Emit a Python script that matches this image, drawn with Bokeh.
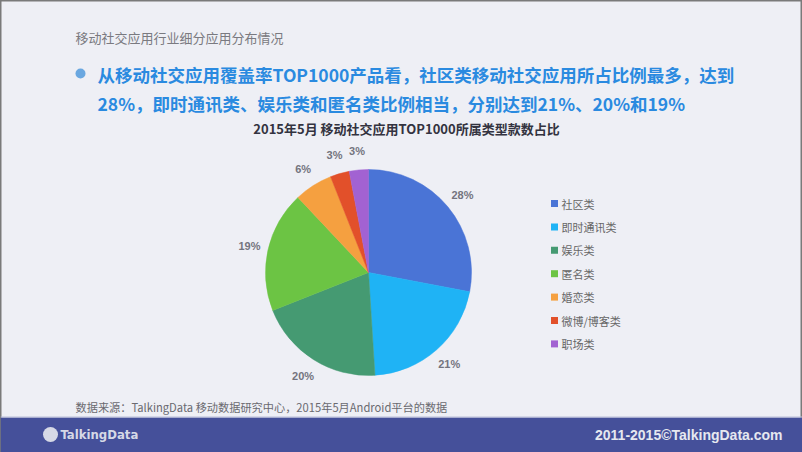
import math
from bokeh.plotting import figure
from bokeh.models import Range1d, ColumnDataSource
from bokeh.core.properties import value
from bokeh.embed import file_html
from bokeh.resources import INLINE

# ---- data ----
categories = ["社区类", "即时通讯类", "娱乐类", "匿名类", "婚恋类", "微博/博客类", "职场类"]
shares = [28, 21, 20, 19, 6, 3, 3]
colors = ["#4a74d6", "#1fb3f5", "#459a72", "#6cc444", "#f5a040", "#e2502a", "#a262d2"]
label_texts = [f"{s}%" for s in shares]

page_title = "移动社交应用行业细分应用分布情况"
headline_1 = "从移动社交应用覆盖率TOP1000产品看，社区类移动社交应用所占比例最多，达到"
headline_2 = "28%，即时通讯类、娱乐类和匿名类比例相当，分别达到21%、20%和19%"
chart_title = "2015年5月 移动社交应用TOP1000所属类型款数占比"
source_text = "数据来源：TalkingData 移动数据研究中心，2015年5月Android平台的数据"
footer_right = "2011-2015©TalkingData.com"
logo_text = "TalkingData"

W, H = 802, 452
CJK = "Noto Sans CJK SC"

p = figure(width=W, height=H, output_backend="svg", toolbar_location=None,
           x_range=Range1d(0, W), y_range=Range1d(0, H), min_border=0)
p.axis.visible = False
p.grid.visible = False
p.background_fill_color = "#eeeff5"
p.border_fill_color = "#eeeff5"
p.outline_line_color = "#7a7a7a"
p.outline_line_width = 2

def Y(py):
    return H - py

# ---- pie ----
cx, cy, r = 368, Y(272), 103
total = sum(shares)
starts, ends, mids = [], [], []
cum = 0
for s in shares:
    a0 = math.pi / 2 - 2 * math.pi * cum / total
    cum += s
    a1 = math.pi / 2 - 2 * math.pi * cum / total
    starts.append(a1)
    ends.append(a0)
    mids.append((a0 + a1) / 2)

src = ColumnDataSource(dict(start=starts, end=ends, color=colors))
p.wedge(x=cx, y=cy, radius=r, start_angle="start", end_angle="end",
        direction="anticlock", fill_color="color", line_color="color",
        line_width=0.5, source=src)

lr = 122
lab = ColumnDataSource(dict(
    x=[cx + lr * math.cos(m) for m in mids],
    y=[cy + lr * math.sin(m) for m in mids],
    t=label_texts))
p.text(x="x", y="y", text="t", source=lab, text_align="center",
       text_baseline="middle", text_font=value("Liberation Sans"),
       text_font_style="bold", text_font_size="11px", text_color="#74747e")

# ---- legend ----
leg_y = [Y(203 + i * 23.4) for i in range(len(categories))]
p.rect(x=[554] * len(categories), y=leg_y, width=7, height=7,
       fill_color=colors, line_color=None)
p.text(x=[561] * len(categories), y=leg_y, text=categories,
       text_baseline="middle", text_font=value(CJK),
       text_font_size="11px", text_color="#666666")

# ---- header texts ----
p.text(x=[75], y=[Y(37)], text=[page_title], text_baseline="middle",
       text_font=value(CJK), text_font_size="13px", text_color="#7a7a80")
p.scatter(x=[80], y=[Y(73)], size=10, fill_color="#6aa7e0", line_color=None)
p.text(x=[97, 97], y=[Y(74), Y(103)], text=[headline_1, headline_2],
       text_baseline="middle", text_font=value(CJK), text_font_style="bold",
       text_font_size="17.5px", text_color="#2a8ae0")
p.text(x=[406], y=[Y(128)], text=[chart_title], text_align="center",
       text_baseline="middle", text_font=value(CJK), text_font_style="bold",
       text_font_size="13px", text_color="#333340")

# ---- source ----
p.text(x=[75], y=[Y(406)], text=[source_text], text_baseline="middle",
       text_font=value(CJK), text_font_size="11.2px", text_color="#6a6a70")

# ---- footer band ----
p.quad(left=[0], right=[W], bottom=[Y(452)], top=[Y(417)],
       fill_color="#45509a", line_color=None)
p.segment(x0=[0], x1=[W], y0=[Y(416.5)], y1=[Y(416.5)],
          line_color="#b8bcd8", line_width=1)
p.scatter(x=[50], y=[Y(434)], size=15, marker="circle",
          fill_color="#d6d9e6", line_color=None)
p.text(x=[60], y=[Y(434)], text=[logo_text], text_baseline="middle",
       text_font=value("DejaVu Sans Condensed"), text_font_style="bold",
       text_font_size="13px", text_color="#d6d9e6")
p.text(x=[782], y=[Y(434)], text=[footer_right], text_align="right",
       text_baseline="middle", text_font=value("Liberation Sans"),
       text_font_style="bold", text_font_size="14px", text_color="#e6e8f0")

open("out.html", "w").write(file_html(p, INLINE))
